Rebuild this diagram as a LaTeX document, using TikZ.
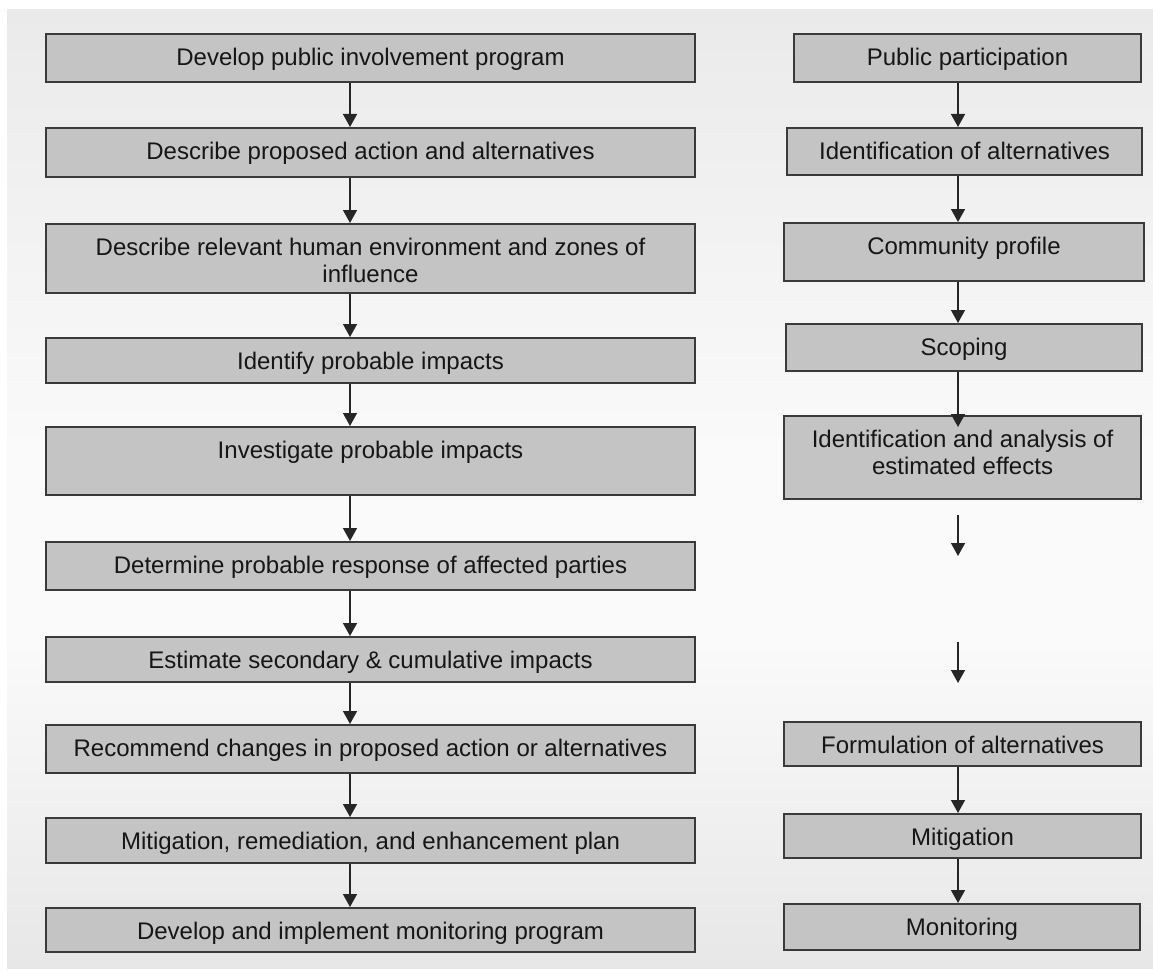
\documentclass[tikz,border=0pt]{standalone}
\usepackage{fontspec}
\setmainfont{Liberation Sans}
\usetikzlibrary{arrows.meta}
\definecolor{bgtop}{HTML}{EAEAEA}
\definecolor{bglight}{HTML}{FAFAFA}
\definecolor{bgbot}{HTML}{E7E7E7}
\definecolor{boxfill}{HTML}{C4C4C4}
\definecolor{boxline}{HTML}{3A3A3A}
\definecolor{txtcol}{HTML}{161616}
\pgfdeclareverticalshading{bgshade}{100bp}{color(0bp)=(bgbot); color(25bp)=(bgbot); color(42bp)=(bglight); color(52bp)=(bglight); color(75bp)=(bgtop); color(100bp)=(bgtop)}
\begin{document}
\begin{tikzpicture}[x=1pt,y=-1pt,
  box/.style={draw=boxline, line width=2pt, fill=boxfill, rectangle, inner sep=0pt},
  txt/.style={anchor=north, inner sep=0pt, align=center, text=txtcol, font=\fontsize{24}{27}\selectfont},
  arr/.style={draw=black!85, line width=1.5pt, -{Triangle[width=14pt,length=13pt]}}]
\useasboundingbox (0,0) rectangle (1153,971);
\shade[shading=bgshade] (7,10) rectangle (1153,968);

% left column boxes
\node[box, minimum width=649pt, minimum height=48pt] (L1) at (370.5,58) {};
\node[box, minimum width=649pt, minimum height=49pt] (L2) at (370.5,152.5) {};
\node[box, minimum width=649pt, minimum height=69pt] (L3) at (370.5,258.5) {};
\node[box, minimum width=649pt, minimum height=45pt] (L4) at (370.5,360.5) {};
\node[box, minimum width=649pt, minimum height=68pt] (L5) at (370.5,461) {};
\node[box, minimum width=649pt, minimum height=48pt] (L6) at (370.5,566) {};
\node[box, minimum width=649pt, minimum height=45pt] (L7) at (370.5,659.5) {};
\node[box, minimum width=649pt, minimum height=48pt] (L8) at (370.5,749) {};
\node[box, minimum width=649pt, minimum height=45pt] (L9) at (370.5,840.5) {};
\node[box, minimum width=649pt, minimum height=44pt] (L10) at (370.5,930) {};

\node[txt] (L1t) at ([yshift=-15pt]L1.north) {Develop public involvement program};
\node[txt] (L2t) at ([yshift=-15pt]L2.north) {Describe proposed action and alternatives};
\node[txt] (L3t) at ([yshift=-15pt]L3.north) {Describe relevant human environment and zones of\\influence};
\node[txt] (L4t) at ([yshift=-15pt]L4.north) {Identify probable impacts};
\node[txt] (L5t) at ([yshift=-15pt]L5.north) {Investigate probable impacts};
\node[txt] (L6t) at ([yshift=-15pt]L6.north) {Determine probable response of affected parties};
\node[txt] (L7t) at ([yshift=-15pt]L7.north) {Estimate secondary \& cumulative impacts};
\node[txt] (L8t) at ([yshift=-15pt]L8.north) {Recommend changes in proposed action or alternatives};
\node[txt] (L9t) at ([yshift=-15pt]L9.north) {Mitigation, remediation, and enhancement plan};
\node[txt] (L10t) at ([yshift=-15pt]L10.north) {Develop and implement monitoring program};

% right column boxes
\node[box, minimum width=347pt, minimum height=48pt] (R1) at (967.5,58) {};
\node[box, minimum width=355pt, minimum height=47pt] (R2) at (964.5,151.5) {};
\node[box, minimum width=360pt, minimum height=58pt] (R3) at (964,252) {};
\node[box, minimum width=356pt, minimum height=47pt] (R4) at (964,347.5) {};
\node[box, minimum width=357pt, minimum height=83pt] (R5) at (962.5,457.5) {};
\node[box, minimum width=357pt, minimum height=44pt] (R6) at (962.5,744) {};
\node[box, minimum width=357pt, minimum height=44pt] (R7) at (962.5,836) {};
\node[box, minimum width=356pt, minimum height=46pt] (R8) at (962,927) {};

\node[txt] (R1t) at ([yshift=-15pt]R1.north) {Public participation};
\node[txt] (R2t) at ([yshift=-15pt]R2.north) {Identification of alternatives};
\node[txt] (R3t) at ([yshift=-15pt]R3.north) {Community profile};
\node[txt] (R4t) at ([yshift=-15pt]R4.north) {Scoping};
\node[txt] (R5t) at ([yshift=-15pt]R5.north) {Identification and analysis of\\estimated effects};
\node[txt] (R6t) at ([yshift=-15pt]R6.north) {Formulation of alternatives};
\node[txt] (R7t) at ([yshift=-15pt]R7.north) {Mitigation};
\node[txt] (R8t) at ([yshift=-15pt]R8.north) {Monitoring};

% connector columns
\coordinate (lx) at (350,0);
\coordinate (rx) at (958,0);

\draw[arr] (L1.south -| lx) -- (L2.north -| lx);
\draw[arr] (L2.south -| lx) -- (L3.north -| lx);
\draw[arr] (L3.south -| lx) -- (L4.north -| lx);
\draw[arr] (L4.south -| lx) -- (L5.north -| lx);
\draw[arr] (L5.south -| lx) -- (L6.north -| lx);
\draw[arr] (L6.south -| lx) -- (L7.north -| lx);
\draw[arr] (L7.south -| lx) -- (L8.north -| lx);
\draw[arr] (L8.south -| lx) -- (L9.north -| lx);
\draw[arr] (L9.south -| lx) -- (L10.north -| lx);

\coordinate (r5in) at ([yshift=-12pt]R5.north);
\draw[arr] (R1.south -| rx) -- (R2.north -| rx);
\draw[arr] (R2.south -| rx) -- (R3.north -| rx);
\draw[arr] (R3.south -| rx) -- (R4.north -| rx);
\draw[arr] (R4.south -| rx) -- (r5in -| rx);

\coordinate (f1a) at (958,515);
\coordinate (f1b) at (958,556);
\coordinate (f2a) at (958,642);
\coordinate (f2b) at (958,683);
\draw[arr] (f1a) -- (f1b);
\draw[arr] (f2a) -- (f2b);

\draw[arr] (R6.south -| rx) -- (R7.north -| rx);
\draw[arr] (R7.south -| rx) -- (R8.north -| rx);
\end{tikzpicture}
\end{document}
